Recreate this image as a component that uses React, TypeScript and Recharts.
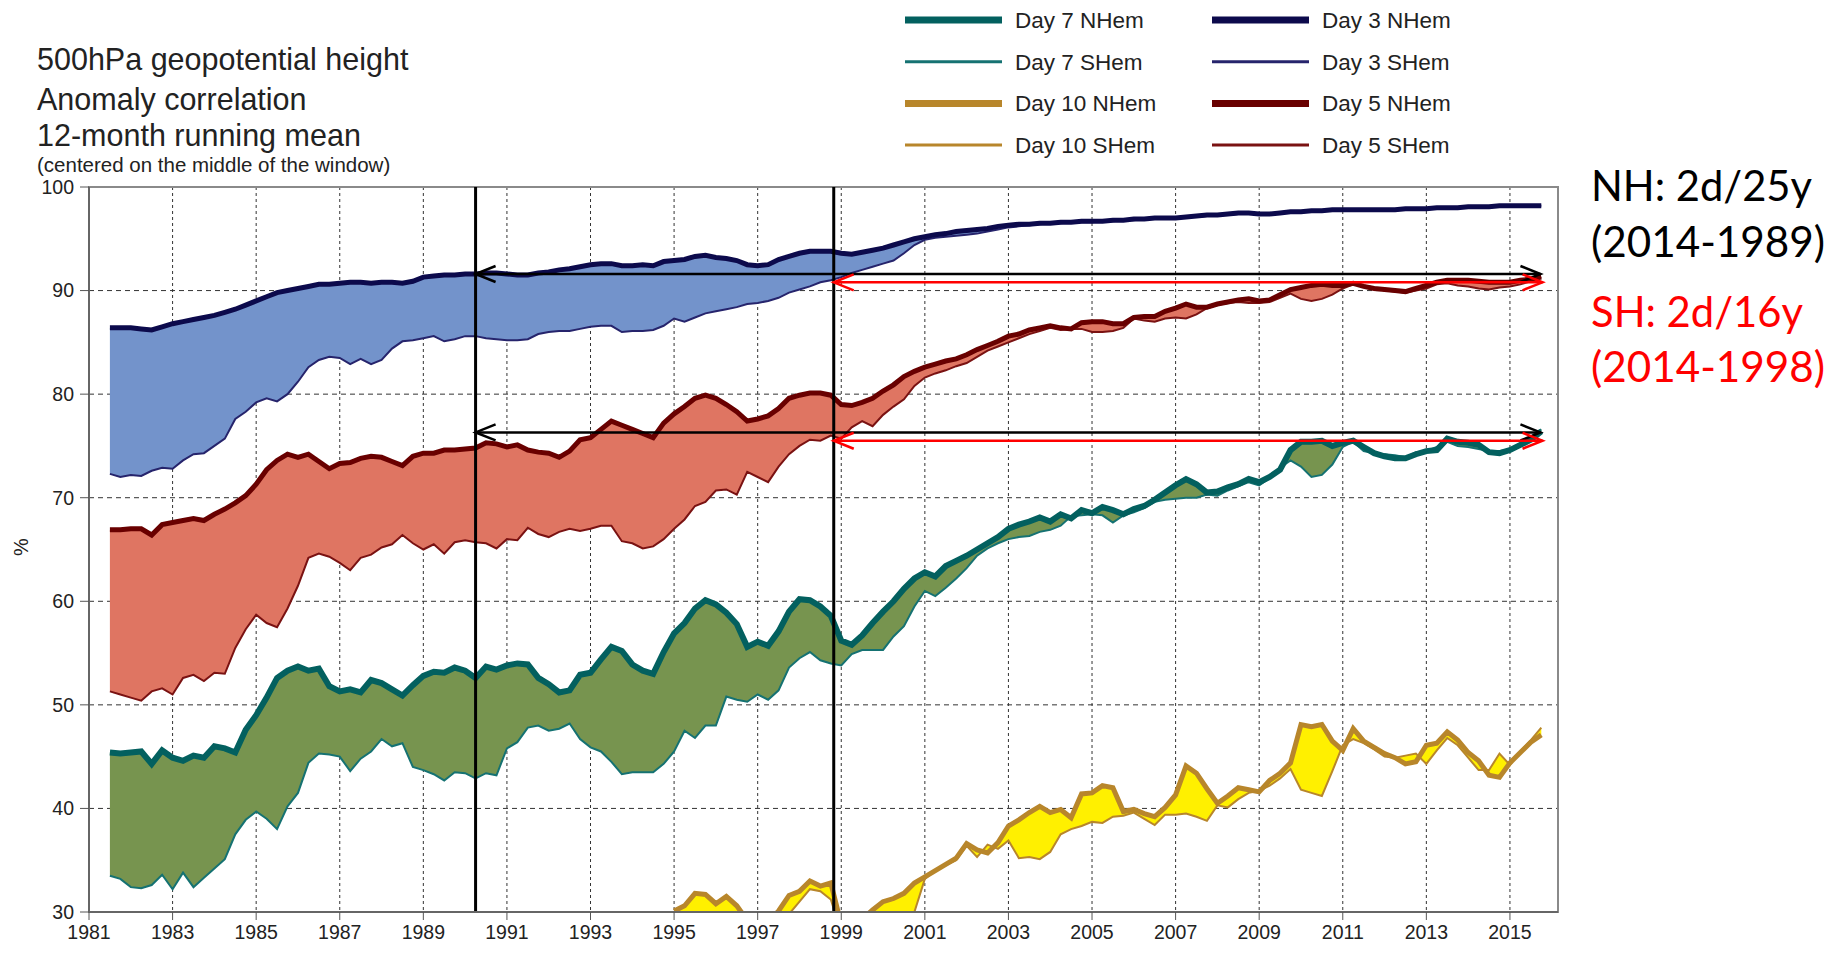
import React from 'react';
import { ComposedChart, Area, Line, XAxis, YAxis, CartesianGrid, ReferenceLine, ReferenceArea } from 'recharts';

// quarterly points of the 12-month running mean, starting 1981.5
const START_YEAR = 1981.5;
const STEP = 0.25;

const day3NH = [
  86.4, 86.4,
  86.4, 86.3, 86.2, 86.5, 86.8, 87.0, 87.2, 87.4, 87.6, 87.9, 88.2, 88.6,
  89.0, 89.4, 89.8, 90.0, 90.2, 90.4, 90.6, 90.6, 90.7, 90.8, 90.8, 90.7,
  90.8, 90.8, 90.7, 90.9, 91.3, 91.4, 91.5, 91.5, 91.6, 91.6, 91.7, 91.7,
  91.6, 91.5, 91.5, 91.7, 91.8, 92.0, 92.1, 92.3, 92.5, 92.6, 92.6, 92.4,
  92.4, 92.5, 92.4, 92.8, 92.9, 93.0, 93.3, 93.4, 93.2, 93.1, 92.9, 92.5,
  92.4, 92.5, 93.0, 93.3, 93.6, 93.8, 93.8, 93.8, 93.6, 93.5, 93.7, 93.9,
  94.1, 94.4, 94.7, 95.0, 95.2, 95.4, 95.5, 95.7, 95.8, 95.9, 96.0, 96.2,
  96.3, 96.4, 96.4, 96.5, 96.5, 96.6, 96.6, 96.7, 96.7, 96.7, 96.8, 96.8,
  96.9, 96.9, 97.0, 97.0, 97.0, 97.1, 97.2, 97.3, 97.3, 97.4, 97.5, 97.5,
  97.4, 97.4, 97.5, 97.6, 97.6, 97.7, 97.7, 97.8, 97.8, 97.8, 97.8, 97.8,
  97.8, 97.8, 97.9, 97.9, 97.9, 98.0, 98.0, 98.0, 98.1, 98.1, 98.1, 98.2,
  98.2, 98.2, 98.2, 98.2,
];

const day3SH = [
  72.3, 72.0,
  72.2, 72.1, 72.6, 72.9, 72.8, 73.6, 74.2, 74.3, 75.0, 75.7, 77.6, 78.3,
  79.2, 79.6, 79.3, 80.0, 81.2, 82.6, 83.3, 83.6, 83.5, 82.9, 83.4, 82.9,
  83.3, 84.4, 85.1, 85.2, 85.4, 85.6, 85.1, 85.3, 85.6, 85.6, 85.4, 85.3,
  85.2, 85.2, 85.3, 85.8, 86.0, 86.1, 86.1, 86.3, 86.5, 86.6, 86.6, 86.0,
  86.1, 86.1, 86.2, 86.6, 87.3, 87.0, 87.4, 87.8, 88.0, 88.2, 88.4, 88.7,
  88.8, 89.0, 89.3, 89.8, 90.1, 90.4, 90.8, 91.0, 91.3, 91.7, 92.0, 92.3,
  92.6, 92.9, 93.6, 94.4, 94.9, 95.1, 95.2, 95.3, 95.4, 95.5, 95.7, 95.9,
  96.1, 96.2, 96.3, 96.4, 96.5, 96.5, 96.6, 96.6, 96.6, 96.7, 96.7, 96.8,
  96.8, 96.9, 96.9, 97.0, 97.0, 97.1, 97.1, 97.2, 97.3, 97.3, 97.4, 97.5,
  97.4, 97.4, 97.5, 97.5, 97.6, 97.6, 97.7, 97.7, 97.8, 97.8, 97.8, 97.8,
  97.8, 97.8, 97.8, 97.9, 97.9, 97.9, 98.0, 98.0, 98.0, 98.1, 98.1, 98.1,
  98.2, 98.2, 98.2, 98.2,
];

const day5NH = [
  66.9, 66.9,
  67.0, 67.0, 66.4, 67.4, 67.6, 67.8, 68.0, 67.8, 68.4, 68.9, 69.5, 70.2,
  71.3, 72.7, 73.6, 74.2, 73.9, 74.2, 73.5, 72.8, 73.3, 73.4, 73.8, 74.0,
  73.9, 73.5, 73.1, 74.0, 74.3, 74.3, 74.6, 74.6, 74.7, 74.8, 75.3, 75.2,
  74.9, 75.1, 74.6, 74.4, 74.3, 73.9, 74.5, 75.6, 75.8, 76.6, 77.4, 77.0,
  76.6, 76.2, 75.8, 77.2, 78.1, 78.8, 79.6, 79.9, 79.6, 79.0, 78.3, 77.4,
  77.6, 77.9, 78.6, 79.6, 79.9, 80.1, 80.1, 79.9, 79.0, 78.9, 79.2, 79.6,
  80.3, 80.9, 81.7, 82.2, 82.6, 82.9, 83.2, 83.4, 83.8, 84.3, 84.7, 85.1,
  85.6, 85.8, 86.2, 86.4, 86.6, 86.4, 86.3, 86.9, 87.0, 87.0, 86.8, 86.8,
  87.4, 87.5, 87.5, 88.0, 88.3, 88.7, 88.4, 88.4, 88.7, 88.9, 89.1, 89.2,
  89.0, 89.1, 89.6, 90.1, 90.3, 90.5, 90.6, 90.5, 90.5, 90.7, 90.4, 90.2,
  90.1, 90.0, 89.9, 90.2, 90.5, 90.8, 91.0, 91.0, 91.0, 90.9, 90.8, 90.8,
  90.8, 91.0, 91.1, 91.3,
];

const day5SH = [
  51.3, 51.0,
  50.7, 50.4, 51.3, 51.6, 51.0, 52.6, 52.9, 52.3, 53.1, 53.0, 55.5, 57.3,
  58.7, 57.9, 57.5, 59.3, 61.5, 64.2, 64.6, 64.3, 63.7, 63.0, 64.2, 64.5,
  65.2, 65.5, 66.4, 65.6, 65.0, 65.5, 64.6, 65.7, 65.9, 65.7, 65.6, 65.1,
  66.0, 65.9, 67.1, 66.5, 66.2, 66.7, 67.0, 66.8, 67.0, 67.3, 67.3, 65.8,
  65.6, 65.1, 65.3, 66.0, 67.0, 67.9, 69.2, 69.6, 70.7, 70.8, 70.3, 72.5,
  72.0, 71.5, 73.0, 74.2, 75.0, 75.6, 75.5, 76.0, 75.7, 76.8, 77.4, 76.9,
  78.0, 78.8, 79.5, 80.8, 81.6, 82.0, 82.3, 82.7, 83.0, 83.6, 84.2, 84.6,
  85.0, 85.4, 85.8, 86.1, 86.4, 86.2, 86.3, 86.3, 86.0, 86.0, 86.1, 86.4,
  87.3, 87.1, 87.0, 87.3, 87.4, 87.3, 87.7, 88.3, 88.6, 88.8, 88.9, 88.8,
  88.8, 88.9, 89.3, 89.7, 89.2, 89.0, 89.2, 89.6, 90.2, 90.6, 90.5, 90.3,
  90.0, 89.9, 89.8, 90.0, 90.2, 90.6, 90.7, 90.5, 90.4, 90.2, 90.1, 90.3,
  90.4, 90.6, 90.9, 91.3,
];

const day7NH = [
  45.4, 45.3,
  45.4, 45.5, 44.3, 45.6, 44.9, 44.6, 45.1, 44.9, 46.0, 45.8, 45.4, 47.6,
  49.0, 50.7, 52.6, 53.3, 53.7, 53.3, 53.5, 51.8, 51.3, 51.5, 51.2, 52.4,
  52.1, 51.5, 50.9, 51.9, 52.8, 53.2, 53.1, 53.6, 53.3, 52.6, 53.7, 53.4,
  53.8, 54.0, 53.9, 52.6, 52.0, 51.2, 51.4, 52.9, 53.1, 54.4, 55.6, 55.2,
  53.9, 53.3, 53.0, 55.1, 56.9, 57.9, 59.3, 60.1, 59.7, 58.9, 57.8, 55.6,
  56.1, 55.7, 57.1, 59.0, 60.2, 60.1, 59.5, 58.6, 56.2, 55.8, 56.7, 57.9,
  59.0, 60.0, 61.2, 62.2, 62.8, 62.4, 63.4, 63.9, 64.4, 65.0, 65.6, 66.2,
  67.0, 67.4, 67.7, 68.1, 67.7, 68.4, 68.0, 68.8, 68.5, 69.1, 68.8, 68.4,
  68.9, 69.2, 69.8, 70.5, 71.2, 71.8, 71.3, 70.5, 70.6, 71.0, 71.3, 71.8,
  71.5, 72.0, 72.7, 74.6, 75.4, 75.4, 75.5, 75.0, 75.3, 75.5, 74.9, 74.3,
  74.0, 73.8, 73.8, 74.2, 74.5, 74.6, 75.7, 75.4, 75.3, 75.1, 74.4, 74.3,
  74.6, 75.1, 75.6, 76.4,
];

const day7SH = [
  33.5, 33.2,
  32.4, 32.3, 32.6, 33.6, 32.2, 33.8, 32.4, 33.3, 34.2, 35.1, 37.5, 38.9,
  39.7, 39.0, 38.0, 40.2, 41.5, 44.4, 45.3, 45.2, 45.0, 43.6, 44.8, 45.5,
  46.7, 46.0, 46.3, 44.0, 43.7, 43.3, 42.7, 43.5, 43.4, 42.9, 43.4, 43.2,
  45.8, 46.4, 47.8, 48.0, 47.5, 47.7, 48.2, 46.7, 45.9, 45.5, 44.5, 43.3,
  43.5, 43.5, 43.5, 44.3, 45.5, 47.5, 46.8, 48.0, 48.0, 50.8, 50.5, 50.3,
  51.0, 50.5, 51.4, 53.6, 54.5, 55.1, 54.3, 54.0, 53.8, 54.9, 55.3, 55.3,
  55.3, 56.6, 57.6, 59.5, 61.0, 60.5, 61.3, 62.2, 63.2, 64.4, 65.1, 65.6,
  66.0, 66.2, 66.3, 66.7, 66.9, 67.3, 68.2, 68.3, 68.4, 68.3, 67.6, 68.3,
  68.6, 69.0, 69.6, 69.8, 69.9, 70.0, 70.0, 70.3, 70.2, 70.7, 71.1, 71.5,
  71.2, 71.9, 72.9, 73.6, 73.0, 72.0, 72.2, 73.2, 74.9, 75.4, 74.5, 74.3,
  74.2, 74.1, 73.9, 74.4, 74.5, 74.9, 75.4, 75.0, 74.9, 74.7, 74.5, 74.5,
  74.7, 75.2, 75.8, 76.6,
];

// day 10 only enters the plotted range from 1995 on
const DAY10_START = 1995;

const day10NH = [
  30.1, 30.6, 31.8, 31.7, 30.8, 31.5, 30.6, 29.2, 28.5, 29.0, 30.1, 31.6,
  32.0, 33.0, 32.5, 32.8, 28.8, 28.6, 29.3, 30.2, 31.0, 31.3, 31.8, 32.8,
  33.4, 34.0, 34.6, 35.2, 36.6, 36.0, 35.7, 36.7, 38.3, 38.9, 39.6, 40.2,
  39.6, 39.9, 39.1, 41.4, 41.5, 42.2, 42.0, 39.7, 39.9, 39.5, 39.2, 40.1,
  41.3, 44.1, 43.4, 41.9, 40.5, 41.2, 42.0, 41.8, 41.6, 42.7, 43.4, 44.4,
  48.1, 47.9, 48.1, 46.5, 45.6, 47.7, 46.5, 45.9, 45.3, 44.9, 44.3, 44.5,
  46.1, 46.3, 47.4, 46.6, 45.4, 44.6, 43.2, 43.0, 44.4, 45.4, 46.4, 47.1,
];

const day10SH = [
  29.0, 29.2, 29.5, 29.4, 29.0, 29.3, 29.0, 28.5, 28.0, 28.3, 29.0, 29.8,
  31.0, 32.2, 32.0, 31.2, 28.0, 27.5, 27.8, 28.2, 28.6, 29.0, 29.6, 30.0,
  33.2, 34.0, 34.5, 35.0, 36.4, 35.3, 36.5, 36.1, 36.9, 35.2, 35.3, 35.1,
  35.8, 37.5, 38.0, 38.3, 38.7, 38.6, 39.2, 39.3, 39.6, 39.0, 38.4, 39.4,
  39.4, 39.5, 39.2, 38.8, 40.3, 40.1, 40.9, 41.5, 41.7, 42.2, 42.9, 43.8,
  41.8, 41.5, 41.2, 43.6, 46.1, 46.7, 46.3, 45.7, 45.0, 44.9, 45.1, 45.3,
  44.3, 45.6, 46.8, 46.1, 44.9, 43.7, 43.7, 45.3, 44.2, 45.5, 46.6, 47.8,
];

const xTicks = [1981, 1983, 1985, 1987, 1989, 1991, 1993, 1995, 1997, 1999, 2001, 2003, 2005, 2007, 2009, 2011, 2013, 2015];
const yTicks = [30, 40, 50, 60, 70, 80, 90, 100];

const NH_LINE_YEAR = 1990.25;
const SH_LINE_YEAR = 1998.82;
const ARROW_END = 2015.73;

const day10Offset = Math.round((DAY10_START - START_YEAR) / STEP);

const data = day3NH.map((_, i) => {
  const j = i - day10Offset;
  const n10 = j >= 0 ? day10NH[j] : null;
  const s10 = j >= 0 ? day10SH[j] : null;
  return {
    year: START_YEAR + i * STEP,
    d3n: day3NH[i],
    d3s: day3SH[i],
    d3band: [day3SH[i], day3NH[i]],
    d5n: day5NH[i],
    d5s: day5SH[i],
    d5band: [day5SH[i], day5NH[i]],
    d7n: day7NH[i],
    d7s: day7SH[i],
    d7band: [day7SH[i], day7NH[i]],
    d10n: n10,
    d10s: s10,
    d10band: n10 === null ? null : [s10, n10],
  };
});

const legendItems = [
  { label: 'Day 7 NHem', color: '#03605f', width: 7, col: 0, row: 0 },
  { label: 'Day 7 SHem', color: '#157272', width: 3, col: 0, row: 1 },
  { label: 'Day 10 NHem', color: '#b8862b', width: 7, col: 0, row: 2 },
  { label: 'Day 10 SHem', color: '#b8862b', width: 3, col: 0, row: 3 },
  { label: 'Day 3 NHem', color: '#0c0a4c', width: 7, col: 1, row: 0 },
  { label: 'Day 3 SHem', color: '#26246c', width: 3, col: 1, row: 1 },
  { label: 'Day 5 NHem', color: '#690000', width: 7, col: 1, row: 2 },
  { label: 'Day 5 SHem', color: '#7a1212', width: 3, col: 1, row: 3 },
];

const arrow = (color: string) => (props: any) => {
  const { x1, y1, x2, y2 } = props;
  const L = 20;
  const H = 8;
  return (
    <g stroke={color} strokeWidth={2.5} fill="none">
      <line x1={x1} y1={y1} x2={x2} y2={y2} />
      <polyline points={`${x1 + L},${y1 - H} ${x1},${y1} ${x1 + L},${y1 + H}`} />
      <polyline points={`${x2 - L},${y2 - H} ${x2},${y2} ${x2 - L},${y2 + H}`} />
    </g>
  );
};

const FONT = "'Liberation Sans', Arial, sans-serif";
const tickStyle = { fontSize: 19.5, fill: '#222', fontFamily: FONT };

export default function App() {
  return (
    <div style={{ position: 'absolute', left: 0, top: 0, width: 1832, height: 956, background: '#fff' }}>
      <ComposedChart
        width={1832}
        height={956}
        data={data}
        margin={{ top: 187, right: 274, bottom: 0, left: 0 }}
      >
        <CartesianGrid horizontal={true} vertical={false} stroke="#333" strokeDasharray="5 4" />
        <CartesianGrid horizontal={false} vertical={true} stroke="#333" strokeDasharray="3 3" />
        <XAxis
          type="number"
          dataKey="year"
          domain={[1981, 2016.15]}
          ticks={xTicks}
          allowDataOverflow
          height={44}
          tick={tickStyle}
          tickSize={8}
          tickMargin={5}
          axisLine={{ stroke: '#666', strokeWidth: 2 }}
          tickLine={{ stroke: '#555' }}
        />
        <YAxis
          type="number"
          domain={[30, 100]}
          ticks={yTicks}
          allowDataOverflow
          width={89}
          tick={tickStyle}
          tickSize={9}
          tickMargin={6}
          axisLine={{ stroke: '#666', strokeWidth: 2 }}
          tickLine={{ stroke: '#555' }}
        />
        <ReferenceArea x1={1981} x2={2016.15} y1={30} y2={100} fill="none" stroke="#8a8a8a" strokeWidth={2} />

        <Area dataKey="d3band" fill="#7393cb" fillOpacity={1} stroke="none" isAnimationActive={false} />
        <Area dataKey="d5band" fill="#df7562" fillOpacity={1} stroke="none" isAnimationActive={false} />
        <Area dataKey="d7band" fill="#77944f" fillOpacity={1} stroke="none" isAnimationActive={false} />
        <Area dataKey="d10band" fill="#fff000" fillOpacity={1} stroke="none" isAnimationActive={false} />

        <Line dataKey="d3s" stroke="#26246c" strokeWidth={2} dot={false} isAnimationActive={false} />
        <Line dataKey="d5s" stroke="#7a1212" strokeWidth={2} dot={false} isAnimationActive={false} />
        <Line dataKey="d7s" stroke="#157272" strokeWidth={2} dot={false} isAnimationActive={false} />
        <Line dataKey="d10s" stroke="#b8862b" strokeWidth={2} dot={false} isAnimationActive={false} />
        <Line dataKey="d3n" stroke="#0c0a4c" strokeWidth={5} dot={false} isAnimationActive={false} />
        <Line dataKey="d5n" stroke="#690000" strokeWidth={5} dot={false} isAnimationActive={false} />
        <Line dataKey="d7n" stroke="#03605f" strokeWidth={6} dot={false} isAnimationActive={false} />
        <Line dataKey="d10n" stroke="#b8862b" strokeWidth={5} dot={false} isAnimationActive={false} />

        <ReferenceLine x={NH_LINE_YEAR} stroke="#000" strokeWidth={3} />
        <ReferenceLine x={SH_LINE_YEAR} stroke="#000" strokeWidth={3} />
        <ReferenceLine segment={[{ x: NH_LINE_YEAR, y: 91.6 }, { x: ARROW_END, y: 91.6 }]} shape={arrow('#000')} />
        <ReferenceLine segment={[{ x: SH_LINE_YEAR, y: 90.8 }, { x: ARROW_END + 0.05, y: 90.8 }]} shape={arrow('#ff0000')} />
        <ReferenceLine segment={[{ x: NH_LINE_YEAR, y: 76.3 }, { x: ARROW_END, y: 76.3 }]} shape={arrow('#000')} />
        <ReferenceLine segment={[{ x: SH_LINE_YEAR, y: 75.5 }, { x: ARROW_END + 0.05, y: 75.5 }]} shape={arrow('#ff0000')} />
      </ComposedChart>

      <svg width={1832} height={956} style={{ position: 'absolute', left: 0, top: 0, pointerEvents: 'none' }}>
        <g fontFamily={FONT} fill="#222">
          <text x={37} y={70} fontSize={30.5}>500hPa geopotential height</text>
          <text x={37} y={110} fontSize={30.5}>Anomaly correlation</text>
          <text x={37} y={146} fontSize={30.5}>12-month running mean</text>
          <text x={37} y={172} fontSize={20.5}>(centered on the middle of the window)</text>
          <text transform="translate(28,547) rotate(-90)" textAnchor="middle" fontSize={20}>%</text>
        </g>
        <g fontFamily={FONT} fontSize={22.5} fill="#222">
          {legendItems.map((it) => {
            const lx = it.col === 0 ? 905 : 1212;
            const cy = 20 + it.row * 41.7;
            return (
              <g key={it.label}>
                <line x1={lx} x2={lx + 97} y1={cy} y2={cy} stroke={it.color} strokeWidth={it.width} />
                <text x={lx + 110} y={cy + 8}>{it.label}</text>
              </g>
            );
          })}
        </g>
        <g fontFamily="Lato, 'Noto Sans', sans-serif" fontSize={42.5}>
          <text x={1591} y={201} fill="#000" textLength={221} lengthAdjust="spacingAndGlyphs">NH: 2d/25y</text>
          <text x={1591} y={257} fill="#000" textLength={234} lengthAdjust="spacingAndGlyphs">(2014-1989)</text>
          <text x={1591} y={327} fill="#ff0000" textLength={212} lengthAdjust="spacingAndGlyphs">SH: 2d/16y</text>
          <text x={1591} y={382} fill="#ff0000" textLength={234} lengthAdjust="spacingAndGlyphs">(2014-1998)</text>
        </g>
      </svg>
    </div>
  );
}
